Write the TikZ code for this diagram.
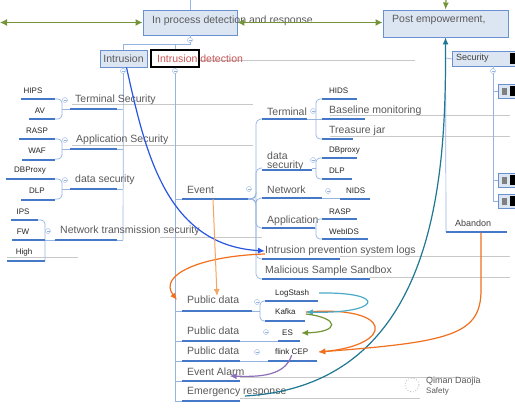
\documentclass[tikz,border=0pt]{standalone}
\usepackage{fontspec}
\setmainfont{Liberation Sans}
\usetikzlibrary{arrows.meta}
\definecolor{boxfill}{RGB}{220,230,243}
\definecolor{boxline}{RGB}{105,145,210}
\definecolor{ulblue}{RGB}{70,120,200}
\definecolor{treeblue}{RGB}{150,180,225}
\definecolor{ghost}{RGB}{200,200,200}
\definecolor{txtgrey}{RGB}{90,90,90}
\definecolor{grn}{RGB}{115,148,55}
\definecolor{blu}{RGB}{40,85,225}
\definecolor{org}{RGB}{240,112,30}
\definecolor{lorg}{RGB}{245,165,95}
\definecolor{tealx}{RGB}{30,120,145}
\definecolor{cyn}{RGB}{75,170,200}
\definecolor{purp}{RGB}{140,110,185}
\definecolor{redtxt}{RGB}{200,85,85}
\begin{document}
\begin{tikzpicture}[x=1pt, y=-1pt,
  lbl/.style={font=\fontsize{10.5}{12}\selectfont, text=txtgrey, inner sep=0pt, anchor=west},
  leaf/.style={font=\fontsize{8}{9}\selectfont, text=black!85, inner sep=0pt},
  hub/.style={draw=boxline, fill=boxfill, line width=0.9pt, inner sep=0pt},
  ul/.style={draw=ulblue, line width=1.2pt},
  tree/.style={draw=treeblue, line width=0.7pt},
  faint/.style={draw=ghost, line width=0.5pt},
  fold/.style={circle, draw=treeblue, fill=white, inner sep=0pt, minimum size=5pt, path picture={\draw[treeblue, line width=0.4pt] ([xshift=-1.5pt]path picture bounding box.center) -- ([xshift=1.5pt]path picture bounding box.center);}},
  link/.style={line width=1.2pt, -{Latex[length=7pt,width=6pt]}},
  twoway/.style={line width=1.2pt, {Latex[length=7pt,width=7pt]}-{Latex[length=7pt,width=7pt]}}]
\useasboundingbox[fill=white] (0,0) rectangle (515,409);

\foreach \a/\b/\y in {199/415/60, 72/253/104, 72/253/145, 160/262/237, 7/78/257, 330/510/115, 330/510/136, 340/510/256, 370/510/277, 240/478/377, 240/420/398}
  \draw[faint] (\a,\y) -- (\b,\y);

\node[hub, minimum width=94pt, minimum height=25pt] (proc) at (190,22.5) {};
\node[lbl] (proct) at (152,21) {In process detection and response};
\node[hub, minimum width=125pt, minimum height=27pt] (post) at (445.5,23.5) {};
\node[lbl] (postt) at (392,20) {Post empowerment,};
\node[hub, minimum width=63pt, minimum height=15pt, anchor=north west] (sec) at (452,51) {};
\node[lbl, font=\fontsize{9}{10}\selectfont, text=black!75] (sect) at (456,58.5) {Security};
\fill (510,53) rectangle (515,64);
\foreach \y [count=\i] in {84,173,194} {
  \node[hub, minimum width=20pt, minimum height=14pt, anchor=north west] (tile\i) at (498,\y) {};
  \fill[gray] (502,\y+4) rectangle (507,\y+11);
  \fill (510,\y+2) rectangle (515,\y+12);
}
\node[lbl, font=\fontsize{9}{10}\selectfont, text=black!75] (abandon) at (455,223) {Abandon};

\node[hub, minimum width=47pt, minimum height=17pt, font=\fontsize{10.5}{12}\selectfont, text=txtgrey] (intr) at (123.5,58.5) {Intrusion};
\node[draw=black, line width=1.3pt, fill=white, minimum width=48pt, minimum height=17pt, inner sep=0pt] (detect) at (175,58.5) {};
\node[lbl, text=redtxt] (detectt) at (157,58.5) {Intrusion detection};

\coordinate (topin) at (190,0);
\draw[tree] (topin) -- (proc.north);
\draw[tree] (proc.south) -- (190,44) -- (123.5,44) -- (intr.north);
\draw[tree] (175,44) -- (detect.north);
\draw[tree] (intr.south) -- (123,240);
\draw[tree] (detect.south) -- (175,401);
\draw[tree] (post.south) -- (446,232);
\draw[tree] (446,58) -- (sec.west);
\draw[tree] (493,66) -- (493,201);
\foreach \i in {1,2,3} \draw[tree] (tile\i.west -| 493,0) -- (tile\i.west);

\node[lbl] (term) at (75,100) {Terminal Security};
\node[lbl] (appl) at (76,140) {Application Security};
\node[lbl] (datal) at (75,180) {data security};
\node[lbl] (netl) at (60,231) {Network transmission security};
\foreach \n/\x/\y/\t in {hips/33/91/HIPS, av/40/111/AV, raspl/37/131/RASP, waf/37/151/WAF, dbpl/30/171/DBProxy, dlpl/37/191/DLP, ips/23/212/IPS, fw/23/232/FW, high/24/252/High}
  \node[leaf] (\n) at (\x,\y) {\t};

\foreach \y in {109,149,189} \draw[tree] (117,\y) -- (123,\y);
\draw[tree] (117,240) -- (123,240);
\foreach \y in {99,139,179} {
  \draw[tree, rounded corners=4pt] (55,\y) -| (62,\y+20) -- (55,\y+20);
  \draw[tree] (62,\y+10) -- (70,\y+10);
}
\draw[tree, rounded corners=4pt] (38,220) -| (45,261);
\draw[tree] (45,240) -- (55,240);

\node[lbl] (event) at (187,190) {Event};
\node[lbl] (termr) at (267,112) {Terminal};
\node[lbl, align=left, font=\fontsize{10.5}{9}\selectfont] (datar) at (267,161) {data\\security};
\node[lbl] (netr) at (267,190) {Network};
\node[lbl] (appr) at (267,221) {Application};
\node[lbl] (ipslog) at (265,251) {Intrusion prevention system logs};
\node[lbl] (sandbox) at (265,271) {Malicious Sample Sandbox};
\node[lbl] (baseline) at (329,111) {Baseline monitoring};
\node[lbl] (jar) at (329,131) {Treasure jar};
\foreach \n/\x/\y/\t in {hids/329/91/HIDS, dbpr/329/151/DBproxy, dlpr/329/171/DLP, nids/346/191/NIDS, raspr/329/212/RASP, webids/329/232/WebIDS, logstash/275/293/LogStash, kafka/275/312/Kafka, es/282/333/ES, flink/275/352/flink CEP}
  \node[leaf, anchor=west] (\n) at (\x,\y) {\t};

\node[lbl] (pub1) at (187,300) {Public data};
\node[lbl] (pub2) at (187,331) {Public data};
\node[lbl] (pub3) at (187,351) {Public data};
\node[lbl] (alarm) at (187,372) {Event Alarm};
\node[lbl] (emerg) at (187,392) {Emergency response};

\foreach \y in {199,311,341,361,381,401} \draw[tree] (175,\y) -- (182,\y);
\foreach \y in {119,168,198,228,259,279} \draw[tree, rounded corners=5pt] (248,199) -| (256,\y) -- (262,\y);
\draw[tree] (307,119) -- (322,119);
\draw[tree, rounded corners=4pt] (322,99) -| (316,139) -- (322,139);
\draw[tree] (312,168) -- (316,168);
\draw[tree, rounded corners=4pt] (322,158) -| (316,179) -- (322,179);
\draw[tree] (322,198) -- (340,198);
\draw[tree] (315,228) -- (316,228);
\draw[tree, rounded corners=4pt] (322,219) -| (316,239) -- (322,239);
\draw[tree] (252,311) -- (260,311);
\draw[tree, rounded corners=4pt] (265,301) -| (260,321) -- (265,321);
\draw[tree] (240,341) -- (278,341);
\draw[tree] (240,361) -- (268,361);

\foreach \a/\b/\y in {21/55/99, 29/55/119, 19/55/139, 22/55/160, 6/55/179, 21/55/200, 11/38/220, 12/45/240, 7/45/261, 70/117/109, 70/117/149, 70/117/189, 55/117/240, 182/248/199, 262/307/119, 262/312/170, 262/322/198, 262/315/228, 262/340/259, 262/370/279, 322/357/99, 322/365/119, 322/353/139, 322/357/158, 322/352/179, 340/370/199, 322/357/219, 322/368/239, 182/252/311, 182/240/341, 182/240/361, 182/240/381, 182/240/401, 265/318/301, 265/305/321, 278/300/341, 268/317/361, 446/507/232}
  \draw[ul] (\a,\y) -- (\b,\y);

\foreach \x/\y [count=\i] in {190/40, 123/71, 175/71, 65/100, 65/140, 65/180, 48/231, 249/189, 313/111, 313/160, 328/191, 257/302, 266/332, 257/352, 493/71}
  \node[fold] (f\i) at (\x,\y) {};

\coordinate (gleft) at (0,22.5);
\coordinate (gtop) at (446,0);
\coordinate (evtap) at (213,199);
\coordinate (abu) at (481,233);
\draw[twoway, grn] (gleft) -- (proc.west);
\draw[twoway, grn] (proc.east) -- (proc.east -| post.west);
\draw[link, grn] (gtop) -- (post.north);
\draw[link, blu] ([xshift=3pt]intr.south) .. controls (145,150) and (165,245) .. (ipslog.west);
\draw[link, org] ([yshift=-3pt]ipslog.west) .. controls (200,256) and (158,275) .. ([xshift=-10pt]pub1.west);
\draw[link, lorg, line width=1pt] (evtap) -- ([xshift=30pt]pub1.north west);
\draw[link, tealx] ([xshift=8pt,yshift=-4pt]emerg.center) .. controls (440,385) and (446,170) .. (post.south);
\draw[link, org] (abu) -- (481,290) .. controls (481,335) and (450,342) .. ([xshift=10pt]flink.east);
\draw[link, org] ([xshift=10pt]kafka.east) .. controls (395,305) and (395,345) .. ([xshift=10pt]flink.east);
\draw[link, cyn] ([xshift=10pt]logstash.east) .. controls (390,292) and (380,314) .. ([xshift=10pt]kafka.east);
\draw[link, grn] ([xshift=10pt,yshift=-2pt]kafka.east) .. controls (340,318) and (340,332) .. ([xshift=8pt]es.east);
\draw[link, purp] (flink.south) .. controls (285,376) and (260,377) .. ([xshift=-15pt,yshift=-4pt]alarm.east);

\node[circle, draw=gray!60, dotted, line width=0.8pt, minimum size=14pt] (logo) at (412,385) {};
\node[lbl, font=\fontsize{9}{10}\selectfont] (qiman) at (426,381) {Qiman Daojia};
\node[lbl, font=\fontsize{8}{9}\selectfont] (safety) at (426,391) {Safety};
\end{tikzpicture}
\end{document}
